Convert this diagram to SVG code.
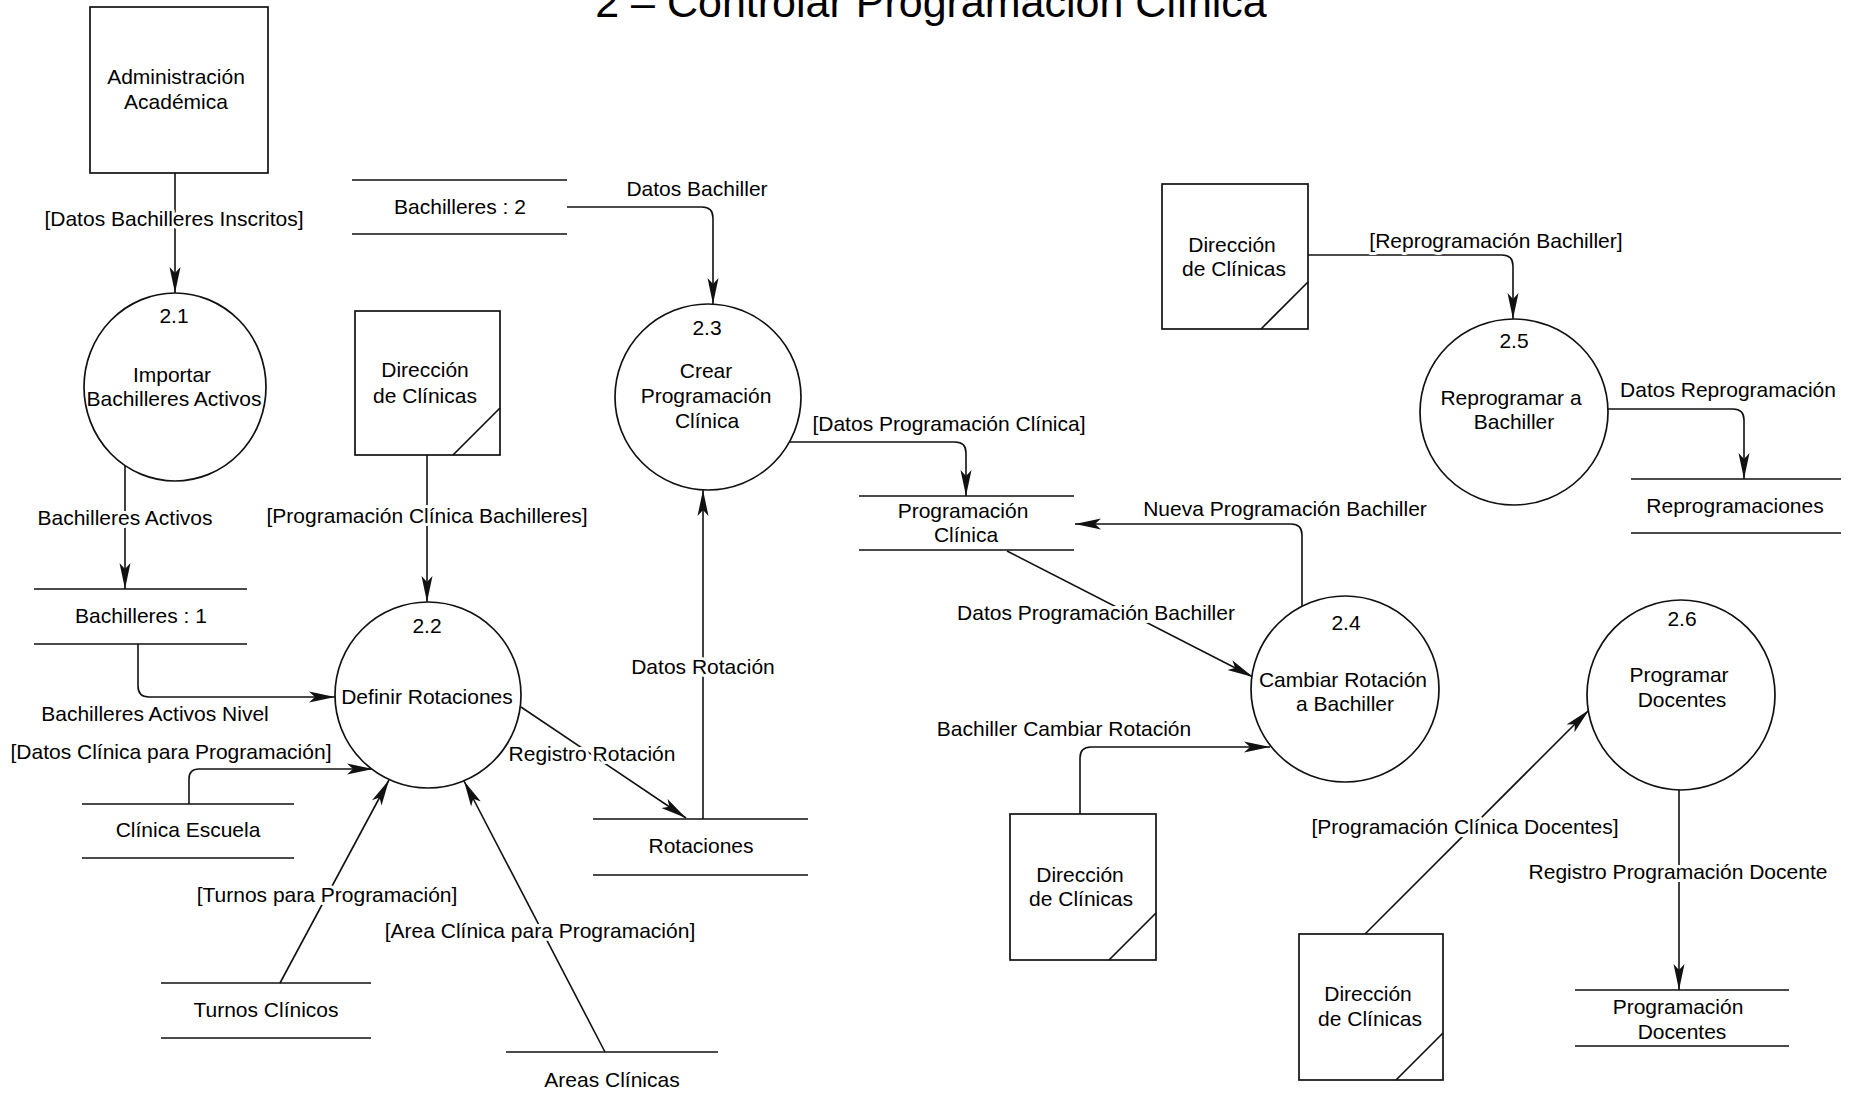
<svg xmlns="http://www.w3.org/2000/svg" width="1853" height="1107" viewBox="0 0 1853 1107">
<style>
text{font-family:"Liberation Sans",Arial,sans-serif;font-size:21px;fill:#000;text-anchor:middle}
.title{font-size:43px}
.box{fill:#fff;stroke:#111;stroke-width:1.7}
.proc{fill:#fff;stroke:#111;stroke-width:1.7}
.st{stroke:#111;stroke-width:1.7;fill:none}
.ln{stroke:#111;stroke-width:1.6;fill:none;marker-end:url(#ah)}
.lbl{paint-order:stroke;stroke:#fff;stroke-width:6px;stroke-linejoin:round}
</style>
<defs>
<marker id="ah" viewBox="0 0 26 12" refX="26" refY="6" markerWidth="26" markerHeight="12" markerUnits="userSpaceOnUse" orient="auto">
<path d="M0,0.5 L26,6 L0,11.5 L6,6 Z" fill="#111"/>
</marker>
</defs>
<rect width="1853" height="1107" fill="#fff"/>
<text class="title" x="931" y="17">2 – Controlar Programación Clínica</text>

<g id="connectors">
<path class="ln" d="M175,173 V293"/>
<path class="ln" d="M125,466 V589"/>
<path class="ln" d="M138,644 V686 Q138,697 149,697 H335"/>
<path class="ln" d="M427,455 V602"/>
<path class="ln" d="M189,804 V779 Q189,769 199,769 H373"/>
<path class="ln" d="M280,983 L389,780"/>
<path class="ln" d="M605,1052 L464,781"/>
<path class="ln" d="M521,707 L686,818"/>
<path class="ln" d="M703,819 V490"/>
<path class="ln" d="M567,207 H702 Q713,207 713,218 V304"/>
<path class="ln" d="M789,442 H955 Q966,442 966,453 V496"/>
<path class="ln" d="M1302,606 V535 Q1302,524 1291,524 H1075"/>
<path class="ln" d="M1007,551 L1253,677"/>
<path class="ln" d="M1080,814 V758 Q1080,747 1091,747 H1270"/>
<path class="ln" d="M1365,934 L1589,710"/>
<path class="ln" d="M1679,790 V990"/>
<path class="ln" d="M1308,255 H1502 Q1513,255 1513,266 V319"/>
<path class="ln" d="M1608,409 H1733 Q1744,409 1744,420 V479"/>
<text class="lbl" x="174" y="226">[Datos Bachilleres Inscritos]</text>
<text class="lbl" x="125" y="525">Bachilleres Activos</text>
<text class="lbl" x="155" y="721">Bachilleres Activos Nivel</text>
<text class="lbl" x="427" y="523">[Programación Clínica Bachilleres]</text>
<text class="lbl" x="171" y="759">[Datos Clínica para Programación]</text>
<text class="lbl" x="327" y="902">[Turnos para Programación]</text>
<text class="lbl" x="540" y="938">[Area Clínica para Programación]</text>
<text class="lbl" x="592" y="761">Registro Rotación</text>
<text class="lbl" x="703" y="674">Datos Rotación</text>
<text class="lbl" x="697" y="196">Datos Bachiller</text>
<text class="lbl" x="949" y="431">[Datos Programación Clínica]</text>
<text class="lbl" x="1285" y="516">Nueva Programación Bachiller</text>
<text class="lbl" x="1096" y="620">Datos Programación Bachiller</text>
<text class="lbl" x="1064" y="736">Bachiller Cambiar Rotación</text>
<text class="lbl" x="1465" y="834">[Programación Clínica Docentes]</text>
<text class="lbl" x="1678" y="879">Registro Programación Docente</text>
<text class="lbl" x="1496" y="248">[Reprogramación Bachiller]</text>
<text class="lbl" x="1728" y="397">Datos Reprogramación</text>
</g>

<g id="admin-academica">
<rect class="box" x="90" y="7" width="178" height="166"/>
<text x="176" y="84">Administración</text>
<text x="176" y="109">Académica</text>
</g>

<g id="p2-1">
<ellipse class="proc" cx="175" cy="387" rx="91" ry="94"/>
<text x="174" y="323">2.1</text>
<text x="172" y="382">Importar</text>
<text x="174" y="406">Bachilleres Activos</text>
</g>

<g id="p2-2">
<ellipse class="proc" cx="428" cy="695" rx="93" ry="93"/>
<text x="427" y="633">2.2</text>
<text x="427" y="704">Definir Rotaciones</text>
</g>

<g id="p2-3">
<ellipse class="proc" cx="708" cy="397" rx="93" ry="93"/>
<text x="707" y="335">2.3</text>
<text x="706" y="378">Crear</text>
<text x="706" y="403">Programación</text>
<text x="707" y="428">Clínica</text>
</g>

<g id="p2-4">
<ellipse class="proc" cx="1345" cy="689" rx="94" ry="93"/>
<text x="1346" y="630">2.4</text>
<text x="1343" y="687">Cambiar Rotación</text>
<text x="1345" y="711">a Bachiller</text>
</g>

<g id="p2-5">
<ellipse class="proc" cx="1514" cy="412" rx="94" ry="93"/>
<text x="1514" y="348">2.5</text>
<text x="1511" y="405">Reprogramar a</text>
<text x="1514" y="429">Bachiller</text>
</g>

<g id="p2-6">
<ellipse class="proc" cx="1681" cy="695" rx="94" ry="95"/>
<text x="1682" y="626">2.6</text>
<text x="1679" y="682">Programar</text>
<text x="1682" y="707">Docentes</text>
</g>

<g id="dir-clinicas-1">
<rect class="box" x="355" y="311" width="145" height="144"/>
<path class="st" d="M500,408 L453,455"/>
<text x="425" y="377">Dirección</text>
<text x="425" y="403">de Clínicas</text>
</g>

<g id="dir-clinicas-2">
<rect class="box" x="1010" y="814" width="146" height="146"/>
<path class="st" d="M1156,913 L1109,960"/>
<text x="1080" y="882">Dirección</text>
<text x="1081" y="906">de Clínicas</text>
</g>

<g id="dir-clinicas-3">
<rect class="box" x="1299" y="934" width="144" height="146"/>
<path class="st" d="M1443,1033 L1396,1080"/>
<text x="1368" y="1001">Dirección</text>
<text x="1370" y="1026">de Clínicas</text>
</g>

<g id="dir-clinicas-4">
<rect class="box" x="1162" y="184" width="146" height="145"/>
<path class="st" d="M1308,282 L1261,329"/>
<text x="1232" y="252">Dirección</text>
<text x="1234" y="276">de Clínicas</text>
</g>

<g id="st-bachilleres-1">
<path class="st" d="M34,589 H247 M34,644 H247"/>
<text x="141" y="623">Bachilleres : 1</text>
</g>

<g id="st-bachilleres-2">
<path class="st" d="M352,180 H567 M352,234 H567"/>
<text x="460" y="214">Bachilleres : 2</text>
</g>

<g id="st-clinica-escuela">
<path class="st" d="M82,804 H294 M82,858 H294"/>
<text x="188" y="837">Clínica Escuela</text>
</g>

<g id="st-turnos-clinicos">
<path class="st" d="M161,983 H371 M161,1038 H371"/>
<text x="266" y="1017">Turnos Clínicos</text>
</g>

<g id="st-areas-clinicas">
<path class="st" d="M506,1052 H718"/>
<text x="612" y="1087">Areas Clínicas</text>
</g>

<g id="st-rotaciones">
<path class="st" d="M593,819 H808 M593,875 H808"/>
<text x="701" y="853">Rotaciones</text>
</g>

<g id="st-programacion-clinica">
<path class="st" d="M859,496 H1074 M859,550 H1074"/>
<text x="963" y="518">Programación</text>
<text x="966" y="542">Clínica</text>
</g>

<g id="st-reprogramaciones">
<path class="st" d="M1631,479 H1841 M1631,533 H1841"/>
<text x="1735" y="513">Reprogramaciones</text>
</g>

<g id="st-programacion-docentes">
<path class="st" d="M1575,990 H1789 M1575,1046 H1789"/>
<text x="1678" y="1014">Programación</text>
<text x="1682" y="1039">Docentes</text>
</g>
</svg>
